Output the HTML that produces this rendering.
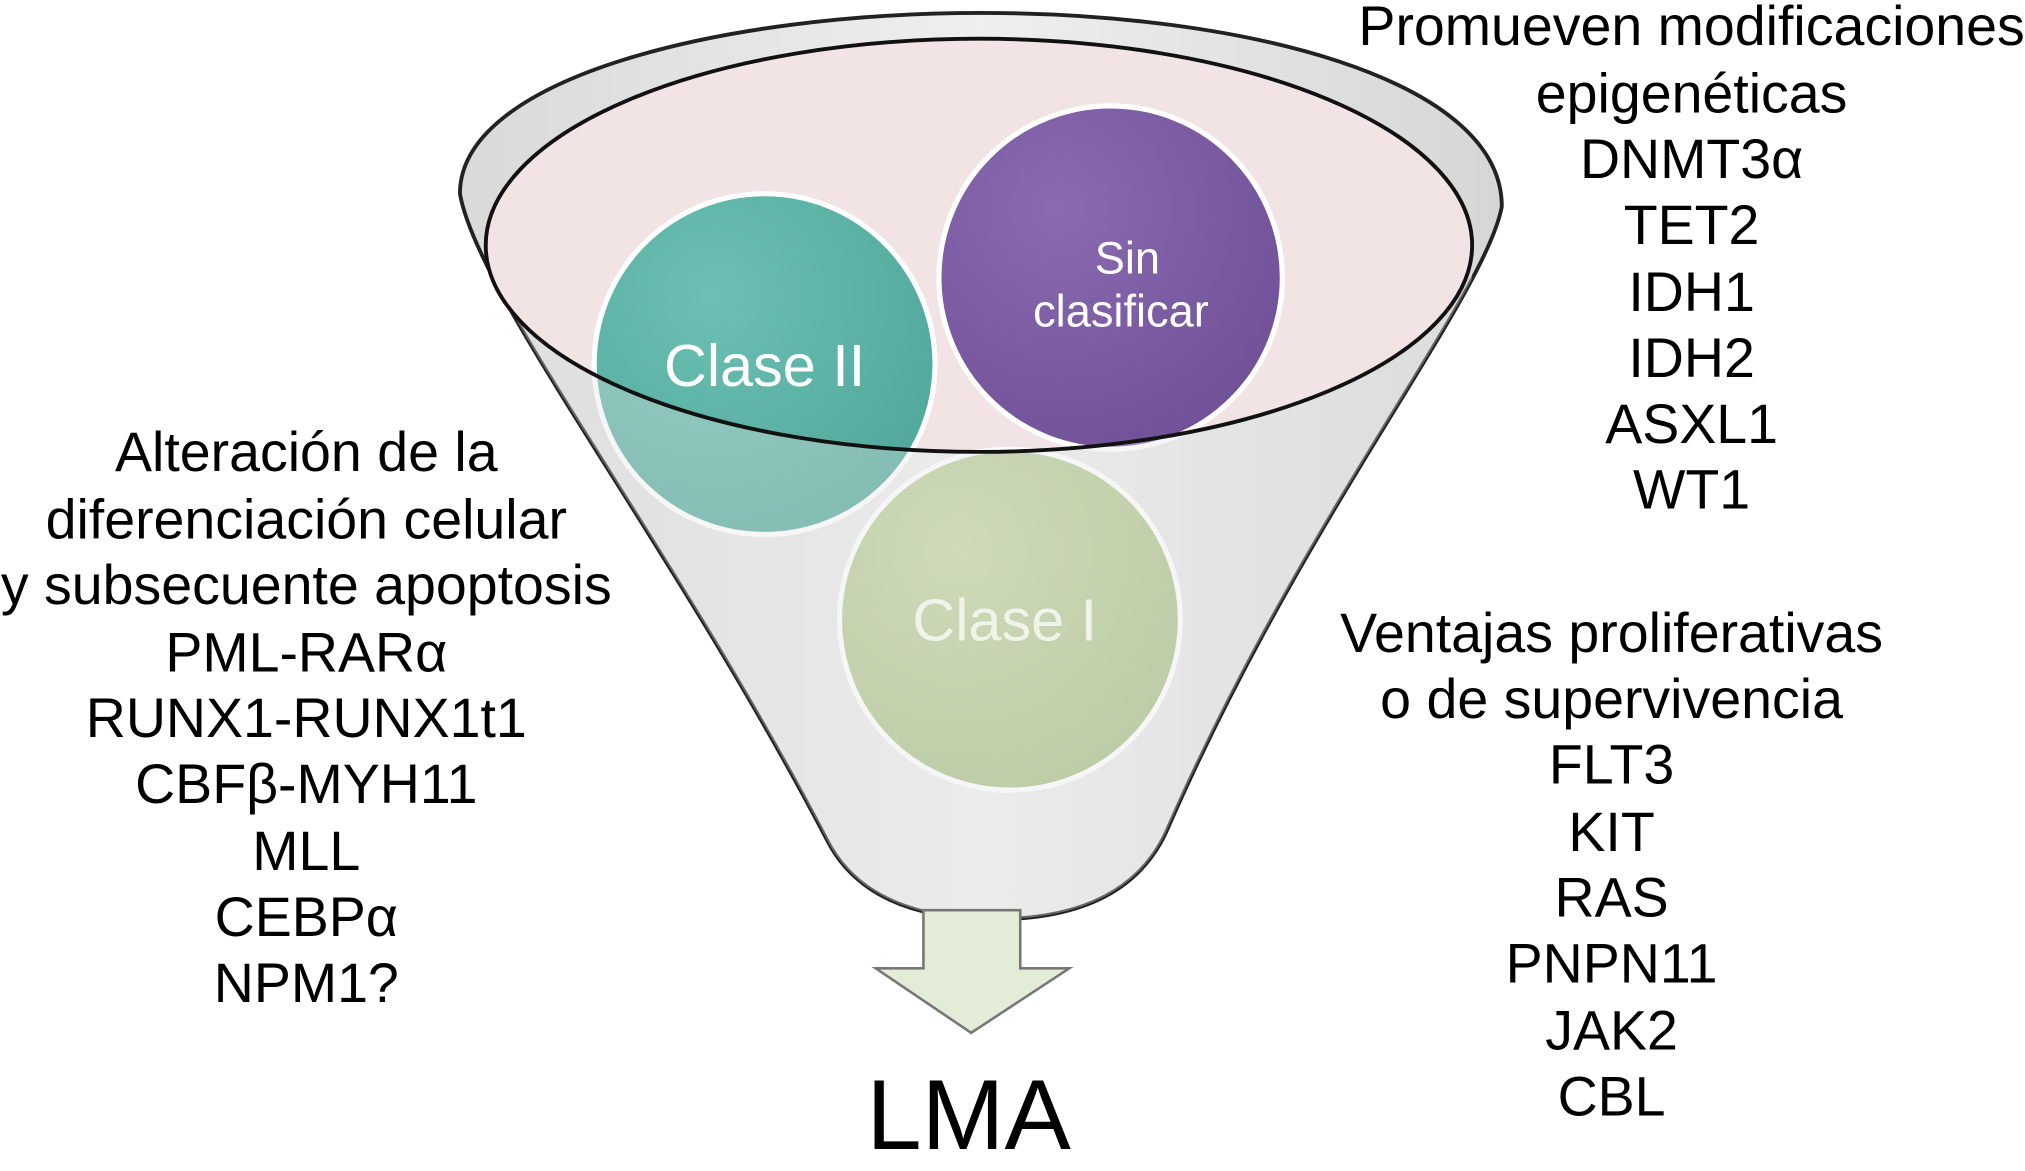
<!DOCTYPE html>
<html><head><meta charset="utf-8"><style>html,body{margin:0;padding:0;background:#fff}svg{display:block}</style></head>
<body>
<svg width="2025" height="1171" viewBox="0 0 1568 907" xmlns="http://www.w3.org/2000/svg" font-family="Liberation Sans, DejaVu Sans, sans-serif">
<defs>
<linearGradient id="cone" x1="0" y1="0" x2="1" y2="0">
<stop offset="0" stop-color="#d9d9d9"/><stop offset="0.5" stop-color="#efefef"/><stop offset="1" stop-color="#d6d6d6"/>
</linearGradient>
<radialGradient id="g2" cx="0.35" cy="0.3" r="0.8"><stop offset="0" stop-color="#6cc0b4"/><stop offset="1" stop-color="#4fa699"/></radialGradient>
<radialGradient id="gp" cx="0.35" cy="0.3" r="0.8"><stop offset="0" stop-color="#8a6ab0"/><stop offset="1" stop-color="#6f4f96"/></radialGradient>
<radialGradient id="g1" cx="0.35" cy="0.3" r="0.8"><stop offset="0" stop-color="#c2d4a0"/><stop offset="1" stop-color="#a8bd85"/></radialGradient>
<clipPath id="fc"><path d="M356 150 C 356 60, 560 10, 760 10 C 960 10, 1163 60, 1163 160 C 1150 230, 1010 400, 905 640 C 880 700, 820 712, 770 712 C 720 712, 665 700, 640 650 C 520 420, 370 230, 356 150 Z"/></clipPath>
</defs>
<path d="M356 150 C 356 60, 560 10, 760 10 C 960 10, 1163 60, 1163 160 C 1150 230, 1010 400, 905 640 C 880 700, 820 712, 770 712 C 720 712, 665 700, 640 650 C 520 420, 370 230, 356 150 Z" fill="url(#cone)" stroke="#222" stroke-width="3"/>
<ellipse cx="758" cy="190" rx="382" ry="160" fill="#f2e4e4" stroke="none"/>
<circle cx="592" cy="282" r="132" fill="url(#g2)" stroke="#fff" stroke-width="4"/>
<circle cx="860" cy="215" r="133" fill="url(#gp)" stroke="#fff" stroke-width="4"/>
<circle cx="782" cy="480" r="132" fill="url(#g1)" stroke="#fff" stroke-width="4"/>
<path clip-path="url(#fc)" d="M376 190 A382 160 0 0 0 1140 190 L1140 720 L376 720 Z" fill="#e6e6e6" fill-opacity="0.35"/>
<ellipse cx="758" cy="190" rx="382" ry="160" fill="none" stroke="#111" stroke-width="3"/>
<text x="592" y="299" font-size="46" fill="#fff" text-anchor="middle">Clase II</text>
<text x="873" y="212" font-size="35" fill="#fff" text-anchor="middle">Sin</text>
<text x="868" y="253" font-size="35" fill="#fff" text-anchor="middle">clasificar</text>
<text x="778" y="496" font-size="46" fill="#f0f3e8" text-anchor="middle">Clase I</text>
<path d="M715 705 L790 705 L790 750 L828 750 L752 800 L678 750 L715 750 Z" fill="#e3ecd6" stroke="#777" stroke-width="2"/>
<text x="750" y="890" font-size="77" text-anchor="middle" fill="#000">LMA</text>
<g font-size="43" fill="#000" text-anchor="middle">
<text x="1310" y="35">Promueven modificaciones</text>
<text x="1310" y="87">epigenéticas</text>
<text x="1310" y="138">DNMT3α</text>
<text x="1310" y="189">TET2</text>
<text x="1310" y="241">IDH1</text>
<text x="1310" y="292">IDH2</text>
<text x="1310" y="343">ASXL1</text>
<text x="1310" y="394">WT1</text>
<text x="237" y="365">Alteración de la</text>
<text x="237" y="417">diferenciación celular</text>
<text x="237" y="468">y subsecuente apoptosis</text>
<text x="237" y="520">PML-RARα</text>
<text x="237" y="571">RUNX1-RUNX1t1</text>
<text x="237" y="622">CBFβ-MYH11</text>
<text x="237" y="674">MLL</text>
<text x="237" y="725">CEBPα</text>
<text x="237" y="776">NPM1?</text>
<text x="1248" y="505">Ventajas proliferativas</text>
<text x="1248" y="556">o de supervivencia</text>
<text x="1248" y="607">FLT3</text>
<text x="1248" y="659">KIT</text>
<text x="1248" y="710">RAS</text>
<text x="1248" y="761">PNPN11</text>
<text x="1248" y="813">JAK2</text>
<text x="1248" y="864">CBL</text>
</g>
</svg>
</body></html>
